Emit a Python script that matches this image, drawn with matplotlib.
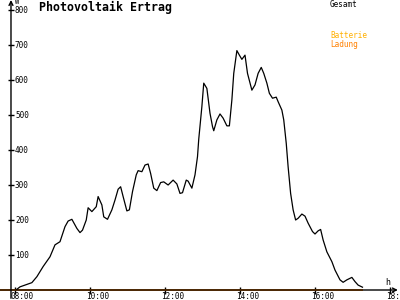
import matplotlib
matplotlib.use("Agg")
import matplotlib.pyplot as plt

# ---- data ----
title = "Photovoltaik Ertrag"
gesamt_min = [483, 488, 507, 515, 525, 536, 544, 552, 560, 565,
              571, 579, 584, 588, 594, 597, 603, 610, 613, 619,
              622, 628, 635, 640, 645, 649, 653, 659, 663, 668,
              674, 677, 683, 688, 693, 697, 702, 707, 713, 718,
              725, 733, 739, 744, 748, 754, 757, 763, 768, 772,
              774, 779, 782, 787, 792, 796, 798, 803, 808, 813,
              819, 823, 827, 830, 835, 839, 843, 848, 852, 859,
              864, 869, 874, 878, 883, 887, 892, 898, 901, 907,
              910, 914, 917, 921, 925, 929, 933, 939, 944, 949,
              956, 960, 965, 969, 973, 979, 987, 992, 1000, 1005,
              1011, 1019, 1024, 1029, 1036]
gesamt_w = [2, 9, 21, 38, 67, 95, 129, 138, 181, 197,
            202, 176, 164, 171, 200, 235, 224, 238, 267, 243,
            209, 202, 229, 257, 288, 295, 267, 226, 229, 281,
            329, 341, 338, 357, 360, 333, 291, 284, 307, 309,
            300, 314, 303, 276, 278, 314, 311, 291, 329, 381,
            431, 524, 591, 576, 505, 467, 455, 486, 503, 491,
            469, 469, 543, 619, 684, 671, 659, 671, 619, 571,
            586, 619, 636, 619, 591, 562, 548, 551, 538, 514,
            486, 419, 352, 276, 229, 200, 205, 217, 211, 191,
            167, 160, 169, 173, 143, 109, 81, 57, 29, 22,
            29, 36, 24, 14, 8]
ladung_min = [456, 1037]
ladung_w = [0, 0]
y_ticks = [100, 200, 300, 400, 500, 600, 700, 800]
x_ticks = [8, 10, 12, 14, 16, 18]
x_labels = ["08:00", "10:00", "12:00", "14:00", "16:00", "18:"]

# ---- figure ----
fig = plt.figure(figsize=(4, 3), dpi=100)
ax = fig.add_axes([0, 0, 1, 1])
ax.set_axis_off()
XMIN, XMAX = 7.6, 18.2667
YMIN, YMAX = -28.57, 828.57
ax.set_xlim(XMIN, XMAX)
ax.set_ylim(YMIN, YMAX)

px = 0.72  # one pixel in points
yaxis_x = 7.893
mono = "DejaVu Sans Mono"

# axes lines with arrows
ax.annotate("", xy=(yaxis_x, YMAX), xytext=(yaxis_x, YMIN + 5),
            arrowprops=dict(arrowstyle="->", lw=1.0, color="black",
                            mutation_scale=7, shrinkA=0, shrinkB=0),
            annotation_clip=False)
ax.annotate("", xy=(18.21, 0), xytext=(XMIN, 0),
            arrowprops=dict(arrowstyle="->", lw=1.0, color="black",
                            mutation_scale=7, shrinkA=0, shrinkB=0),
            annotation_clip=False)

# ticks
ax.plot([yaxis_x] * len(y_ticks), y_ticks, linestyle="none", marker="_",
        ms=6 * px, mew=1.0, color="black")
ax.plot(x_ticks, [0] * len(x_ticks), linestyle="none", marker="|",
        ms=7 * px, mew=1.0, color="black")

# y tick labels
for v in y_ticks:
    ax.annotate(str(v), xy=(yaxis_x, v), xytext=(4 * px, -0.5 * px),
                textcoords="offset points", ha="left", va="center",
                fontsize=5.5, family=mono, color="black")
# x tick labels
for t, lab in zip(x_ticks, x_labels):
    ax.annotate(lab, xy=(t, 0), xytext=(-4 * px, -6 * px),
                textcoords="offset points", ha="left", va="center",
                fontsize=5.5, family=mono, color="black")

# axis unit labels
ax.annotate("W", xy=(yaxis_x, YMAX), xytext=(4 * px, -1.5 * px),
            textcoords="offset points", ha="left", va="center",
            fontsize=5, family=mono, color="black")
ax.annotate("h", xy=(18, 0), xytext=(-5 * px, 8 * px),
            textcoords="offset points", ha="left", va="center",
            fontsize=6, family=mono, color="black")

# series
gx = [m / 60 for m in gesamt_min]
lx = [m / 60 for m in ladung_min]
ax.plot(lx, ladung_w, color="#FF8000", lw=1.3, solid_capstyle="butt")
ax.plot(gx, gesamt_w, color="black", lw=0.9)

# title and legend
fig.text(39 / 400, 1 - 7 / 300, title, ha="left", va="center",
         fontsize=8.4, family=mono, fontweight="bold", color="black")
fig.text(330 / 400, 1 - 4.5 / 300, "Gesamt", ha="left", va="center",
         fontsize=5.5, family=mono, color="black")
fig.text(330 / 400, 1 - 36 / 300, "Batterie", ha="left", va="center",
         fontsize=5.5, family=mono, color="#FFB000")
fig.text(330 / 400, 1 - 44 / 300, "Ladung", ha="left", va="center",
         fontsize=5.5, family=mono, color="#FF8000")

fig.savefig("out.png", dpi=100)
